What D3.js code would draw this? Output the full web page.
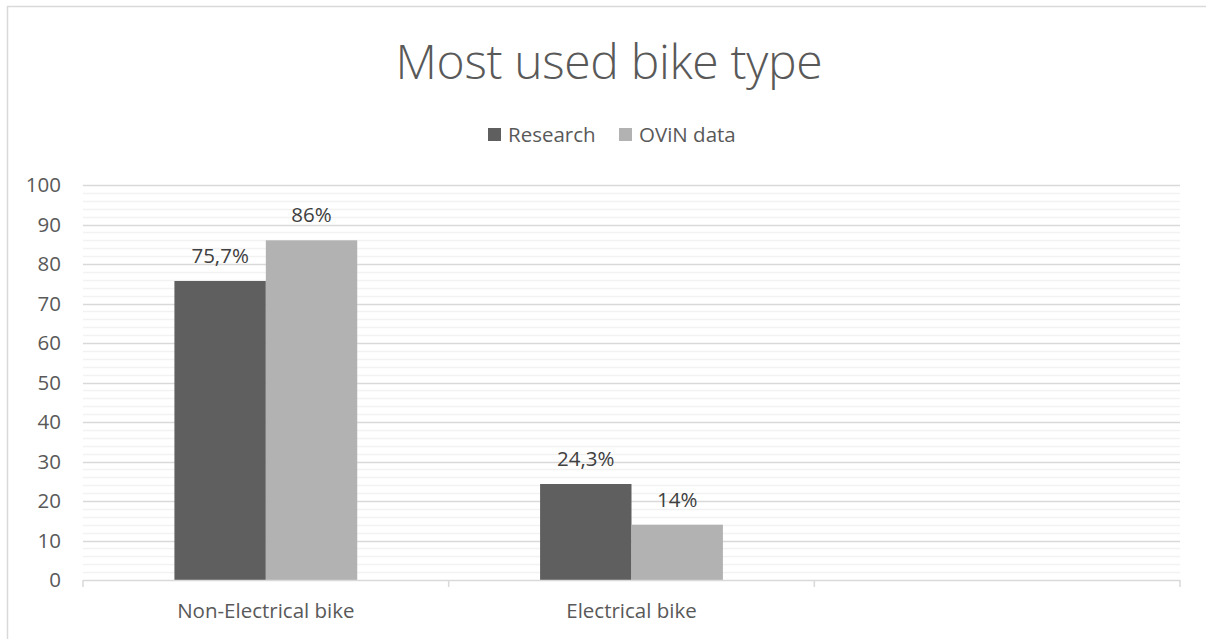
<!DOCTYPE html>
<html>
<head>
<meta charset="utf-8">
<script src="https://cdn.jsdelivr.net/npm/d3@7"></script>
<style>
  html, body { margin: 0; padding: 0; background: #fff; overflow: hidden; }
  svg { display: block; }
  text { font-family: "Open Sans", "Noto Sans", sans-serif; }
</style>
</head>
<body>
<svg id="chart" width="1206" height="639"></svg>
<script>
// Chart data
const categories = ["Non-Electrical bike", "Electrical bike", ""];
const seriesNames = ["Research", "OViN data"];
const researchValues = [75.7, 24.3, null];
const ovinValues = [86, 14, null];
const researchLabels = ["75,7%", "24,3%", ""];
const ovinLabels = ["86%", "14%", ""];
const yTicks = [0, 10, 20, 30, 40, 50, 60, 70, 80, 90, 100];
const colors = ["#5f5f5f", "#b2b2b2"];

const svg = d3.select("#chart");
const W = 1206, H = 639;
const plot = { left: 83, right: 1180, top: 185, bottom: 580 };
const FONT = 20.5;

// Outer chart frame (right and bottom edges run past the page)
svg.append("rect")
  .attr("x", 7.5).attr("y", 6.5)
  .attr("width", W + 20).attr("height", H + 20)
  .attr("fill", "#fff").attr("stroke", "#d9d9d9").attr("stroke-width", 1.5);

const x = d3.scaleBand().domain(d3.range(categories.length))
  .range([plot.left, plot.right]).paddingInner(0).paddingOuter(0);
const y = d3.scaleLinear().domain([0, 100]).range([plot.bottom, plot.top]);

// Minor gridlines every 2
const minor = d3.range(2, 100, 2).filter(v => v % 10 !== 0);
svg.append("g").selectAll("line").data(minor).join("line")
  .attr("x1", plot.left).attr("x2", plot.right)
  .attr("y1", d => Math.round(y(d)) + 0.5).attr("y2", d => Math.round(y(d)) + 0.5)
  .attr("stroke", "#f2f2f2").attr("stroke-width", 1.5);

// Major gridlines
svg.append("g").selectAll("line").data(yTicks.filter(v => v > 0)).join("line")
  .attr("x1", plot.left).attr("x2", plot.right)
  .attr("y1", d => Math.round(y(d)) + 0.5).attr("y2", d => Math.round(y(d)) + 0.5)
  .attr("stroke", "#d9d9d9").attr("stroke-width", 1.5);

// Y axis labels
svg.append("g").selectAll("text").data(yTicks).join("text")
  .attr("x", 61).attr("y", d => y(d))
  .attr("dy", "0.36em")
  .attr("text-anchor", "end")
  .attr("font-size", FONT).attr("fill", "#595959")
  .text(d => d);

// Bars: two per category, one bar-width of gap on each side
const inner = d3.scaleBand().domain(d3.range(seriesNames.length))
  .range([0, x.bandwidth()]).paddingOuter(1).paddingInner(0);
const series = [researchValues, ovinValues];
const labels = [researchLabels, ovinLabels];

series.forEach((vals, s) => {
  const g = svg.append("g");
  const data = vals.map((v, i) => ({ v, i })).filter(d => d.v !== null);
  g.selectAll("rect").data(data).join("rect")
    .attr("x", d => x(d.i) + inner(s))
    .attr("width", inner.bandwidth())
    .attr("y", d => y(d.v))
    .attr("height", d => y(0) - y(d.v))
    .attr("fill", colors[s]);
  g.selectAll("text").data(data).join("text")
    .attr("x", d => x(d.i) + inner(s) + inner.bandwidth() / 2)
    .attr("y", d => y(d.v) - 18)
    .attr("text-anchor", "middle")
    .attr("font-size", FONT).attr("fill", "#404040")
    .text(d => labels[s][d.i]);
});

// Category axis baseline and ticks
svg.append("line")
  .attr("x1", plot.left).attr("x2", plot.right)
  .attr("y1", plot.bottom + 0.5).attr("y2", plot.bottom + 0.5)
  .attr("stroke", "#d9d9d9").attr("stroke-width", 1.5);
const tickXs = d3.range(categories.length + 1).map(i => i < categories.length ? x(i) : plot.right);
svg.append("g").selectAll("line").data(tickXs).join("line")
  .attr("x1", d => d).attr("x2", d => d)
  .attr("y1", plot.bottom).attr("y2", plot.bottom + 7)
  .attr("stroke", "#d9d9d9").attr("stroke-width", 1.5);

svg.append("g").selectAll("text").data(categories).join("text")
  .attr("x", (d, i) => x(i) + x.bandwidth() / 2)
  .attr("y", 618)
  .attr("text-anchor", "middle")
  .attr("font-size", FONT).attr("fill", "#595959")
  .text(d => d);

// Title
svg.append("text")
  .attr("x", 609).attr("y", 79)
  .attr("text-anchor", "middle")
  .attr("font-size", 48).attr("font-weight", 300).attr("fill", "#595959")
  .attr("textLength", 427).attr("lengthAdjust", "spacing")
  .text("Most used bike type");

// Legend
const legend = svg.append("g");
const legendItems = [{ name: seriesNames[0], x: 488 }, { name: seriesNames[1], x: 619 }];
legendItems.forEach((it, i) => {
  legend.append("rect").attr("x", it.x).attr("y", 128).attr("width", 13).attr("height", 13)
    .attr("fill", colors[i]);
  legend.append("text").attr("x", it.x + 20).attr("y", 142)
    .attr("font-size", FONT).attr("fill", "#595959").text(it.name);
});
</script>
</body>
</html>
